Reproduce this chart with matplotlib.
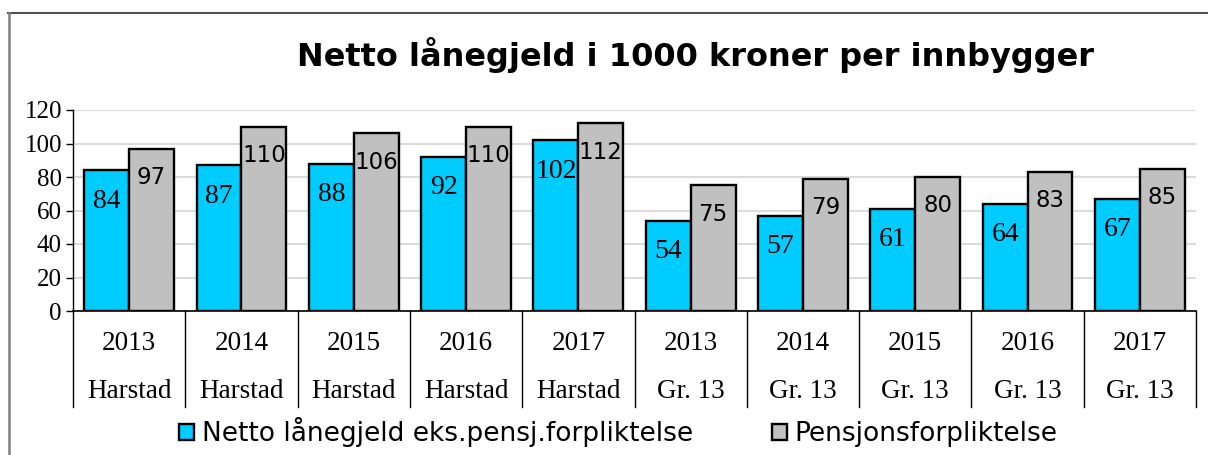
import matplotlib.pyplot as plt
from matplotlib.lines import Line2D
from matplotlib.patches import Patch
import matplotlib.transforms as mtransforms

years = ["2013", "2014", "2015", "2016", "2017", "2013", "2014", "2015", "2016", "2017"]
places = ["Harstad"] * 5 + ["Gr. 13"] * 5
netto = [84, 87, 88, 92, 102, 54, 57, 61, 64, 67]
pensjon = [97, 110, 106, 110, 112, 75, 79, 80, 83, 85]

CYAN = "#00CCFF"
GREY = "#C0C0C0"
SERIF = "Liberation Serif"
SANS = "DejaVu Sans"


def main():
    fig = plt.figure(figsize=(12.08, 4.55), dpi=100)
    ax = fig.add_axes([73 / 1208, 1 - 311 / 455, (1196 - 73) / 1208, 201 / 455])

    x = list(range(len(years)))
    w = 0.4
    b1 = ax.bar([i - w / 2 for i in x], netto, w, color=CYAN, edgecolor="black", linewidth=1.7, zorder=3)
    b2 = ax.bar([i + w / 2 for i in x], pensjon, w, color=GREY, edgecolor="black", linewidth=1.7, zorder=3)

    for rect, v in zip(b1, netto):
        ax.annotate(str(v), (rect.get_x() + rect.get_width() / 2, v), xytext=(0, -31),
                    textcoords="offset pixels", ha="center", va="center",
                    fontsize=20, family=SERIF, zorder=4)
    for rect, v in zip(b2, pensjon):
        ax.annotate(str(v), (rect.get_x() + rect.get_width() / 2, v), xytext=(0, -29),
                    textcoords="offset pixels", ha="center", va="center",
                    fontsize=16.5, family=SANS, zorder=4)

    ax.set_xlim(-0.5, len(years) - 0.5)
    ax.set_ylim(0, 120)
    ax.set_yticks(range(0, 121, 20))
    ax.set_yticklabels([str(t) for t in range(0, 121, 20)], family=SERIF, fontsize=18)
    ax.tick_params(axis="y", length=5, width=1, pad=3)
    ax.set_xticks([])
    ax.yaxis.grid(True, color="#D4D4D4", linewidth=1.2, zorder=0)
    for s in ["top", "right"]:
        ax.spines[s].set_visible(False)
    ax.spines["left"].set_linewidth(1)
    ax.spines["bottom"].set_linewidth(1.2)

    # category separators and two-row labels
    trans = mtransforms.blended_transform_factory(ax.transData, ax.transAxes)
    drop = 96 / 201
    for k in range(len(years) + 1):
        ax.add_line(Line2D([k - 0.5, k - 0.5], [0, -drop], transform=trans,
                           color="black", linewidth=1, clip_on=False))
    for i in x:
        ax.text(i, -33 / 201, years[i], transform=trans, ha="center", va="center",
                family=SERIF, fontsize=19.5)
        ax.text(i, -81 / 201, places[i], transform=trans, ha="center", va="center",
                family=SERIF, fontsize=19.5)

    fig.text(0.576, 1 - 55 / 455, "Netto lånegjeld i 1000 kroner per innbygger",
             ha="center", va="center", fontsize=23, fontweight="bold", family=SANS)

    handles = [Patch(facecolor=CYAN, edgecolor="black", linewidth=1.7),
               Patch(facecolor=GREY, edgecolor="black", linewidth=1.7)]
    fig.legend(handles, ["Netto lånegjeld eks.pensj.forpliktelse", "Pensjonsforpliktelse"],
               loc="center", bbox_to_anchor=(0.512, 1 - 432 / 455), ncol=2, frameon=False,
               prop={"family": SANS, "size": 19}, handlelength=0.55, handleheight=0.55,
               handletextpad=0.3, columnspacing=3.0)

    # outer chart frame (top and left edges)
    fig.add_artist(Line2D([8 / 1208, 1], [1 - 13 / 455] * 2, transform=fig.transFigure,
                          color="#505050", linewidth=1.5))
    fig.add_artist(Line2D([8.5 / 1208] * 2, [0, 1 - 13 / 455], transform=fig.transFigure,
                          color="#808080", linewidth=1.8))

    fig.savefig("out.png", dpi=100)


if __name__ == "__main__":
    main()
